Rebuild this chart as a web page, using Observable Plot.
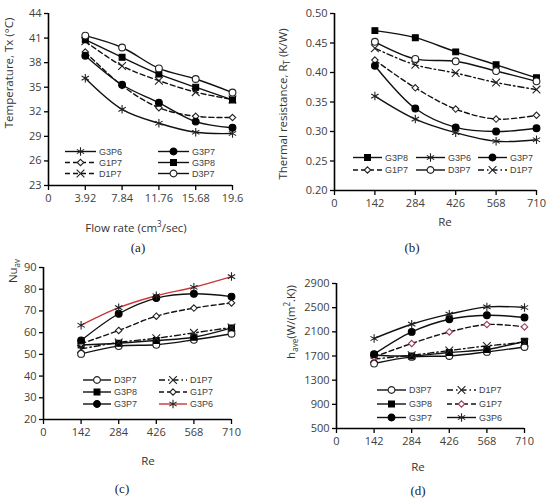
<!DOCTYPE html>
<html>
<head>
<meta charset="utf-8">
<script src="https://cdn.jsdelivr.net/npm/d3@7"></script>
<script src="https://cdn.jsdelivr.net/npm/@observablehq/plot@0.6"></script>
<style>
  html, body { margin: 0; padding: 0; background: #fff; }
  #root { position: relative; width: 550px; height: 504px; overflow: hidden; font-family: "Open Sans", sans-serif; }
  .pan { position: absolute; }
  .lab { position: absolute; white-space: nowrap; color: #333; font-family: "Open Sans", sans-serif; font-size: 11.5px; line-height: 1.1; transform: translate(-50%, -50%); }
  .rot { transform: translate(-50%, -50%) rotate(-90deg); }
  .cap { font-family: "Liberation Serif", "Times New Roman", serif; font-size: 13px; color: #222; }
  sub, sup { font-size: 70%; line-height: 0; }
  #legend { position: absolute; left: 0; top: 0; }
</style>
</head>
<body>
<div id="root"></div>
<script>
// ---------- data ----------
const flowRate = [3.92, 7.84, 11.76, 15.68, 19.6];
const flowTicks = [0, 3.92, 7.84, 11.76, 15.68, 19.6];
const reValues = [142, 284, 426, 568, 710];
const reTicks = [0, 142, 284, 426, 568, 710];

// (a) Temperature Tx (°C)
const tempG3P6 = [36.1, 32.3, 30.6, 29.5, 29.35];
const tempG3P7 = [38.85, 35.3, 33.1, 30.8, 30.05];
const tempG1P7 = [39.3, 35.2, 32.5, 31.45, 31.3];
const tempG3P8 = [40.8, 38.65, 36.6, 35.0, 33.45];
const tempD1P7 = [40.6, 37.6, 35.8, 34.4, 33.5];
const tempD3P7 = [41.3, 39.85, 37.3, 36.0, 34.35];

// (b) Thermal resistance RT (K/W)
const rtG3P8 = [0.471, 0.459, 0.435, 0.413, 0.391];
const rtG3P6 = [0.360, 0.321, 0.298, 0.2835, 0.286];
const rtG3P7 = [0.4115, 0.339, 0.307, 0.300, 0.3055];
const rtG1P7 = [0.421, 0.374, 0.338, 0.321, 0.3275];
const rtD3P7 = [0.452, 0.423, 0.419, 0.4025, 0.385];
const rtD1P7 = [0.441, 0.413, 0.399, 0.383, 0.371];

// (c) Nu_av
const nuD3P7 = [50.2, 53.8, 54.4, 56.7, 59.5];
const nuD1P7 = [52.5, 55.5, 57.4, 59.9, 62.4];
const nuG3P8 = [54.3, 55.1, 56.4, 57.9, 62.2];
const nuG1P7 = [54.9, 61.0, 67.6, 71.3, 73.7];
const nuG3P7 = [56.4, 68.7, 75.9, 77.9, 76.6];
const nuG3P6 = [63.4, 71.5, 77.0, 80.9, 85.8];

// (d) h_ave (W/(m².K))
const hD3P7 = [1575, 1685, 1701, 1768, 1850];
const hD1P7 = [1650, 1712, 1790, 1867, 1925];
const hG3P8 = [1713, 1701, 1758, 1807, 1945];
const hG1P7 = [1685, 1907, 2099, 2221, 2182];
const hG3P7 = [1730, 2099, 2309, 2375, 2337];
const hG3P6 = [1990, 2226, 2392, 2513, 2503];

const yTicksA = [23, 26, 29, 32, 35, 38, 41, 44];
const yTicksB = [0.20, 0.25, 0.30, 0.35, 0.40, 0.45, 0.50];
const yTicksC = [20, 30, 40, 50, 60, 70, 80, 90];
const yTicksD = [500, 900, 1300, 1700, 2100, 2500, 2900];

// ---------- styles ----------
const DASH = "5,3";
const DASHDOT = "6,3,1.5,3";
function styleFor(name, panel) {
  const s = {
    G3P6: {symbol: "asterisk", fill: "none", mstroke: "#222", r: 4, dash: null},
    G3P7: {symbol: "circle", fill: "black", mstroke: "black", r: 3.4, dash: null},
    G1P7: {symbol: "diamond2", fill: "white", mstroke: "#222", r: 2.9, dash: DASH},
    G3P8: {symbol: "square", fill: "black", mstroke: "black", r: 3.3, dash: null},
    D1P7: {symbol: "times", fill: "none", mstroke: "#222", r: 3.6, dash: panel === "a" ? DASH : DASHDOT},
    D3P7: {symbol: "circle", fill: "white", mstroke: "#222", r: 3.4, dash: null}
  }[name];
  s.lstroke = "#111";
  if (panel === "c" && name === "G3P6") s.lstroke = "#c8373a";
  if (panel === "d" && name === "G1P7") s.mstroke = "#9b3b5e";
  return s;
}

const panels = [
  {id: "a", left: 0, top: 0, w: 275, h: 250, mL: 48, mR: 43, mT: 13, mB: 65,
   x: flowRate, xDomain: [0, 19.6], xTicks: flowTicks, xFormat: d => String(d),
   yDomain: [23, 44], yTicks: yTicksA, yFormat: d3.format("d"),
   order: ["G3P6", "G1P7", "D1P7", "G3P7", "G3P8", "D3P7"],
   data: {G3P6: tempG3P6, G3P7: tempG3P7, G1P7: tempG1P7, G3P8: tempG3P8, D1P7: tempD1P7, D3P7: tempD3P7},
   legendRows: [["G3P6", "G3P7"], ["G1P7", "G3P8"], ["D1P7", "D3P7"]],
   legendX: [65, 158], legendW: 31, legendY: [151.5, 162.5, 173.5]},
  {id: "b", left: 275, top: 0, w: 275, h: 250, mL: 59, mR: 14, mT: 13, mB: 60,
   x: reValues, xDomain: [0, 710], xTicks: reTicks, xFormat: d => String(d),
   yDomain: [0.20, 0.50], yTicks: yTicksB, yFormat: d3.format(".2f"),
   order: ["G3P6", "G1P7", "D1P7", "G3P7", "G3P8", "D3P7"],
   data: {G3P8: rtG3P8, G3P6: rtG3P6, G3P7: rtG3P7, G1P7: rtG1P7, D3P7: rtD3P7, D1P7: rtD1P7},
   legendRows: [["G3P8", "G3P6", "G3P7"], ["G1P7", "D3P7", "D1P7"]],
   legendX: [353, 416, 478], legendW: 29, legendY: [157.5, 170]},
  {id: "c", left: 0, top: 250, w: 275, h: 254, mL: 43, mR: 44, mT: 17, mB: 85,
   x: reValues, xDomain: [0, 710], xTicks: reTicks, xFormat: d => String(d),
   yDomain: [20, 90], yTicks: yTicksC, yFormat: d3.format("d"),
   order: ["D3P7", "G3P8", "D1P7", "G1P7", "G3P7", "G3P6"],
   data: {D3P7: nuD3P7, D1P7: nuD1P7, G3P8: nuG3P8, G1P7: nuG1P7, G3P7: nuG3P7, G3P6: nuG3P6},
   legendRows: [["D3P7", "D1P7"], ["G3P8", "G1P7"], ["G3P7", "G3P6"]],
   legendX: [83, 159], legendW: 28, legendY: [380, 392, 404]},
  {id: "d", left: 275, top: 250, w: 275, h: 254, mL: 61, mR: 26, mT: 33, mB: 76,
   x: reValues, xDomain: [0, 710], xTicks: reTicks, xFormat: d => String(d),
   yDomain: [500, 2900], yTicks: yTicksD, yFormat: d3.format("d"),
   order: ["D3P7", "G3P8", "D1P7", "G1P7", "G3P7", "G3P6"],
   data: {D3P7: hD3P7, D1P7: hD1P7, G3P8: hG3P8, G1P7: hG1P7, G3P7: hG3P7, G3P6: hG3P6},
   legendRows: [["D3P7", "D1P7"], ["G3P8", "G1P7"], ["G3P7", "G3P6"]],
   legendX: [377, 447], legendW: 29, legendY: [390, 404, 417.5]}
];

const root = document.getElementById("root");

for (const p of panels) {
  const marks = [];
  for (const name of p.order) {
    const st = styleFor(name, p.id);
    const rows = p.x.map((xv, i) => ({x: xv, y: p.data[name][i]}));
    marks.push(Plot.line(rows, {x: "x", y: "y", stroke: st.lstroke, strokeWidth: 1.4,
      strokeDasharray: st.dash, curve: "catmull-rom"}));
  }
  for (const name of p.order) {
    const st = styleFor(name, p.id);
    const rows = p.x.map((xv, i) => ({x: xv, y: p.data[name][i]}));
    marks.push(Plot.dot(rows, {x: "x", y: "y", symbol: st.symbol, r: st.r,
      fill: st.fill, stroke: st.mstroke, strokeWidth: 1.1}));
  }
  const chart = Plot.plot({
    width: p.w, height: p.h,
    marginLeft: p.mL, marginRight: p.mR, marginTop: p.mT, marginBottom: p.mB,
    x: {domain: p.xDomain},
    y: {domain: p.yDomain},
    style: {fontFamily: "Open Sans, sans-serif", fontSize: "11px", background: "transparent", overflow: "visible"},
    marks: [
      Plot.axisY({ticks: p.yTicks, tickFormat: p.yFormat, tickSize: 4, tickPadding: 3,
        stroke: "black", fill: "#404040", strokeWidth: 1.3, label: null}),
      Plot.axisX({ticks: p.xTicks, tickFormat: p.xFormat, tickSize: 5, tickPadding: 4,
        stroke: "black", fill: "#404040", strokeWidth: 1.3, label: null}),
      Plot.ruleX([p.xDomain[0]], {stroke: "black", strokeWidth: 1.6}),
      Plot.ruleY([p.yDomain[0]], {stroke: "black", strokeWidth: 1.6}),
      ...marks
    ]
  });
  chart.classList.add("pan");
  chart.style.left = p.left + "px";
  chart.style.top = p.top + "px";
  root.appendChild(chart);
}

// ---------- legends ----------
const symMap = {asterisk: d3.symbolAsterisk, circle: d3.symbolCircle, diamond2: d3.symbolDiamond2,
  square: d3.symbolSquare, times: d3.symbolTimes};
const lsvg = d3.select(root).append("svg").attr("id", "legend").attr("width", 550).attr("height", 504);
for (const p of panels) {
  p.legendRows.forEach((row, ri) => {
    row.forEach((name, ci) => {
      const st = styleFor(name, p.id);
      const x0 = p.legendX[ci], y0 = p.legendY[ri];
      lsvg.append("line").attr("x1", x0).attr("x2", x0 + p.legendW).attr("y1", y0).attr("y2", y0)
        .attr("stroke", st.lstroke).attr("stroke-width", 1.4).attr("stroke-dasharray", st.dash);
      lsvg.append("path").attr("transform", `translate(${x0 + p.legendW / 2},${y0})`)
        .attr("d", d3.symbol(symMap[st.symbol], st.r * st.r * Math.PI)())
        .attr("fill", st.fill).attr("stroke", st.mstroke).attr("stroke-width", 1.1);
      lsvg.append("text").attr("x", x0 + p.legendW + 3).attr("y", y0).attr("dy", "0.35em")
        .attr("font-family", "Liberation Sans, Arial, sans-serif").attr("font-size", 9).attr("fill", "#404040")
        .text(name);
    });
  });
}

// ---------- axis titles and captions ----------
const labels = [
  {html: "Temperature, Tx (°C)", x: 9, y: 73, rot: true},
  {html: "Flow rate (cm<sup>3</sup>/sec)", x: 136, y: 228},
  {html: "(a)", x: 138, y: 248, cap: true},
  {html: "Thermal resistance, R<sub>T</sub> (K/W)", x: 283, y: 104, rot: true},
  {html: "Re", x: 445, y: 222},
  {html: "(b)", x: 412, y: 248, cap: true},
  {html: "Nu<sub>av</sub>", x: 13, y: 271, rot: true},
  {html: "Re", x: 148, y: 461},
  {html: "(c)", x: 122, y: 489, cap: true},
  {html: "h<sub>ave</sub>(W/(m<sup>2</sup>.K))", x: 291, y: 322, rot: true},
  {html: "Re", x: 418, y: 467},
  {html: "(d)", x: 418, y: 491, cap: true}
];
for (const l of labels) {
  const d = document.createElement("div");
  d.className = "lab" + (l.rot ? " rot" : "") + (l.cap ? " cap" : "");
  d.innerHTML = l.html;
  d.style.left = l.x + "px";
  d.style.top = l.y + "px";
  root.appendChild(d);
}
</script>
</body>
</html>
